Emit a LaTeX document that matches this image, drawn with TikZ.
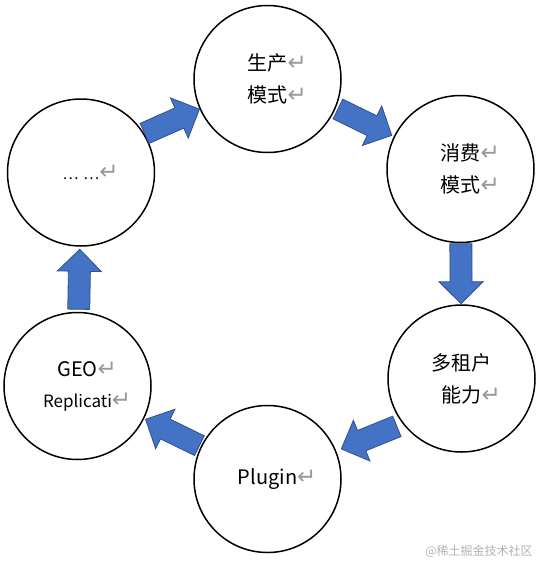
\documentclass[tikz,border=0pt]{standalone}
\usepackage{fontspec}
\setmainfont{Noto Sans CJK SC}
\newfontfamily\symfont{DejaVu Sans}
\usetikzlibrary{calc}
\definecolor{arrowfill}{HTML}{4472C4}
\definecolor{arrowline}{HTML}{2F528F}
\newcommand{\retmark}{\rlap{\raisebox{0pt}{\textcolor{black!40}{\symfont\fontsize{23}{23}\selectfont ↵}}}}

\begin{document}
\begin{tikzpicture}[x=1pt,y=-1pt,
  ring/.style={draw,circle,line width=1.5pt,minimum size=147pt,inner sep=0pt,
    align=center,font=\fontsize{20}{32}\selectfont},
  flow/.style={draw=arrowline,fill=arrowfill,line width=0.8pt,line join=miter}]
\useasboundingbox (0,0) rectangle (546,571);
\node[ring] (top) at (267.5,79)  {生产\retmark\\模式\retmark};
\node[ring] (rt)  at (460.5,169) {消费\retmark\\模式\retmark};
\node[ring] (rb)  at (461.5,378.5) {多租户\\能力\retmark};
\node[ring] (bot) at (267.5,479) {Plugin\retmark};
\node[ring] (lb)  at (77.5,386)  {GEO\retmark\\[-1pt]{\fontsize{17}{17}\selectfont Replicati\retmark}};
\node[ring] (lt)  at (81,172.5)  {{\fontsize{15}{15}\selectfont …\,\,…}\retmark};
\foreach \a/\b/\o in {lt/top/5,top/rt/2,rt/rb/0,rb/bot/10,bot/lb/0,lb/lt/0}
{   \coordinate (m) at ($($(\a.center)!.5!(\b.center)$)!\o pt!90:(\b.center)$);
    \coordinate (s) at ($(m)!-30pt!(\b.center)$);
    \coordinate (h) at ($(m)!8pt!(\b.center)$);
    \coordinate (e) at ($(m)!30pt!(\b.center)$);
    \draw[flow] ($(s)!11pt!90:(\b.center)$) -- ($(h)!11pt!90:(\b.center)$)
      -- ($(h)!22pt!90:(\b.center)$) -- (e) -- ($(h)!22pt!-90:(\b.center)$)
      -- ($(h)!11pt!-90:(\b.center)$) -- ($(s)!11pt!-90:(\b.center)$) -- cycle;
}
\node[text=black!30,font=\fontsize{12}{12}\selectfont] (mark) at (479,551) {@稀土掘金技术社区};
\end{tikzpicture}
\end{document}
